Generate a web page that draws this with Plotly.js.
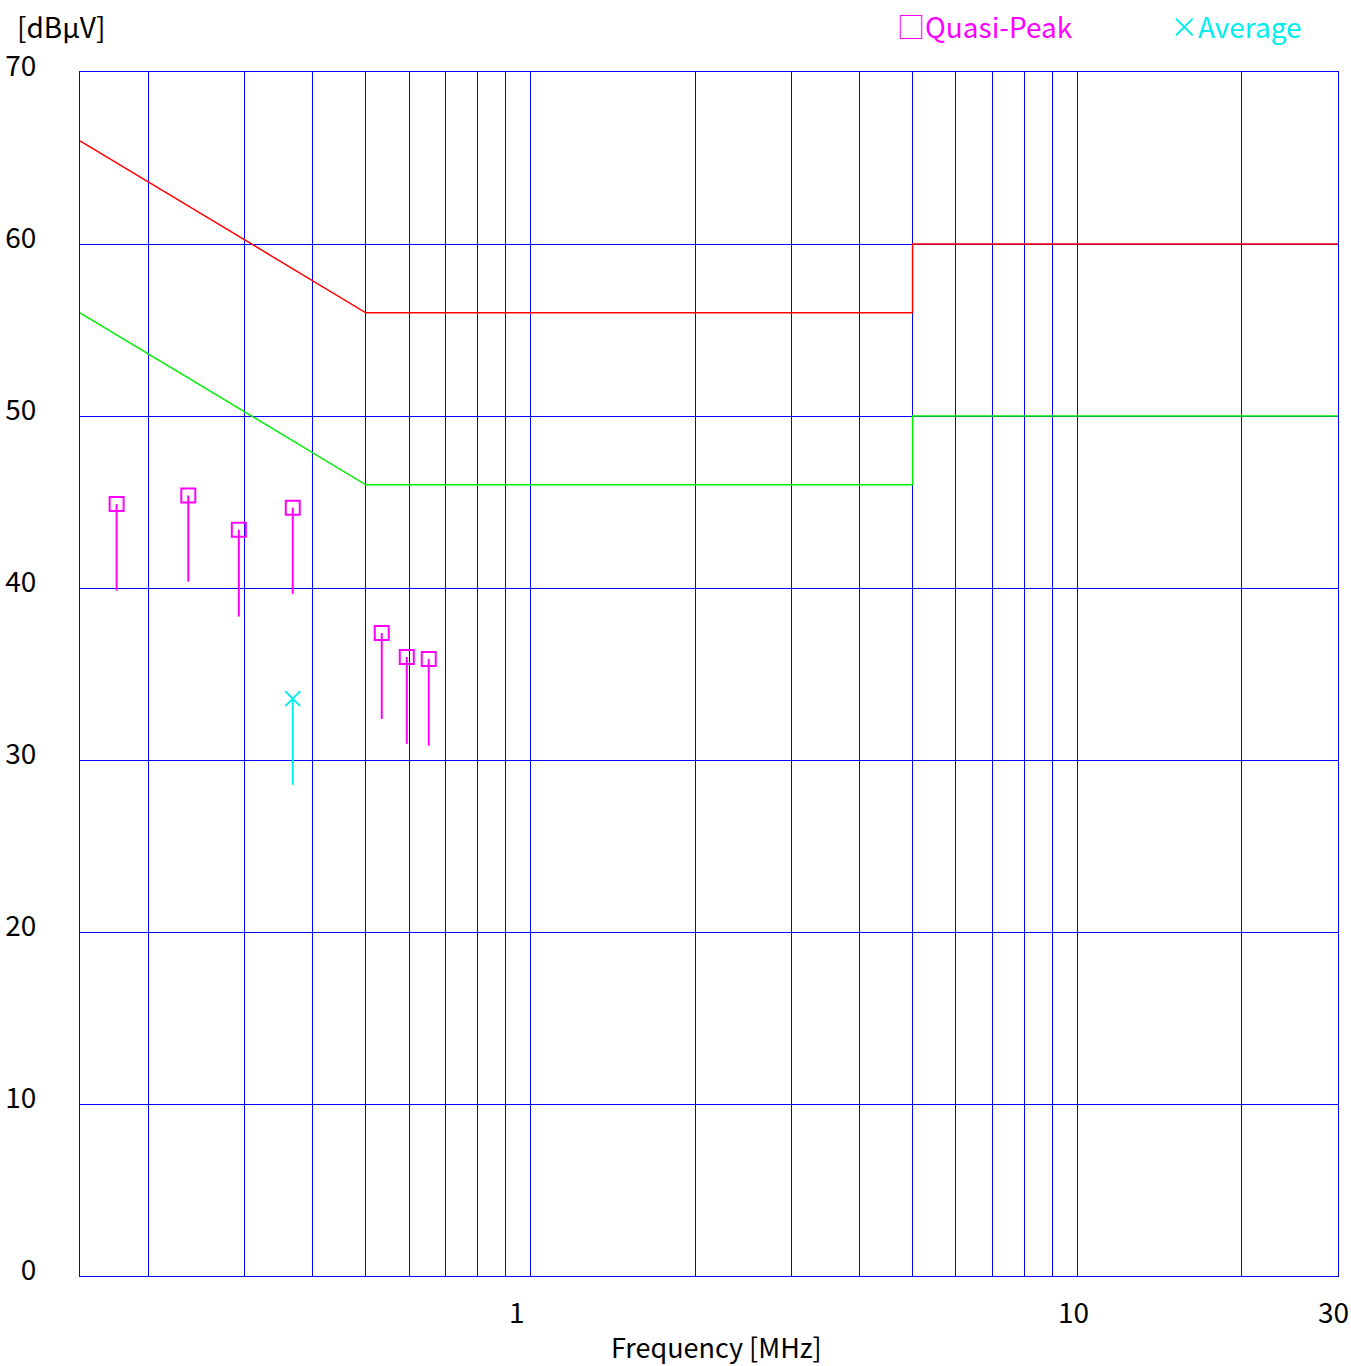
<!DOCTYPE html>
<html>
<head>
<meta charset="utf-8">
<script src="https://cdn.plot.ly/plotly-3.0.1.min.js"></script>
<style>html,body{margin:0;padding:0;background:#fff;}</style>
</head>
<body>
<div id="chart" style="width:1351px;height:1366px;"></div>
<script>
// Limit lines (MHz, dBuV)
const qpLimitFreq = [0.15, 0.5, 5, 5, 30];
const qpLimitVal  = [66, 56, 56, 60, 60];
const avLimitFreq = [0.15, 0.5, 5, 5, 30];
const avLimitVal  = [56, 46, 46, 50, 50];

// Quasi-peak measurements
const qpFreq = [0.1750, 0.2367, 0.2928, 0.3675, 0.5346, 0.5940, 0.6516];
const qpVal  = [44.89, 45.38, 43.39, 44.67, 37.38, 35.99, 35.87];
const qpLow  = [39.85, 40.37, 38.34, 39.66, 32.38, 30.94, 30.84];

// Average measurements
const avFreq = [0.3675];
const avVal  = [33.57];
const avLow  = [28.56];

// Axes
const xGridVals = [0.2,0.3,0.4,0.5,0.6,0.7,0.8,0.9,1,2,3,4,5,6,7,8,9,10,20,30];
const xTickVals = [1, 10, 30];
const xTickLabels = ["1", "10", "30"];
const yTickVals = [0,10,20,30,40,50,60,70];
const yTickLabels = ["0","10","20","30","40","50","60","70"];

const FONT = "Noto Sans CJK JP, Noto Sans, sans-serif";

function stems(fr, top, low) {
  const xs = [], ys = [];
  for (let i = 0; i < fr.length; i++) {
    xs.push(fr[i], fr[i], null);
    ys.push(top[i], low[i], null);
  }
  return {xs, ys};
}
const qs = stems(qpFreq, qpVal, qpLow);
const as = stems(avFreq, avVal, avLow);

const traces = [
  {x: qpLimitFreq, y: qpLimitVal, mode: "lines", line: {color: "#ff0000", width: 1.5}, hoverinfo: "skip"},
  {x: avLimitFreq, y: avLimitVal, mode: "lines", line: {color: "#00ee00", width: 1.5}, hoverinfo: "skip"},
  {x: qs.xs, y: qs.ys, mode: "lines", line: {color: "#ff00ff", width: 2}, connectgaps: false},
  {x: as.xs, y: as.ys, mode: "lines", line: {color: "#00eeee", width: 2}, connectgaps: false},
  {x: qpFreq, y: qpVal, mode: "markers",
   marker: {symbol: "square-open", size: 14, color: "#ff00ff", line: {width: 2, color: "#ff00ff"}}},
  {x: avFreq, y: avVal, mode: "markers",
   marker: {symbol: "x-thin-open", size: 15, color: "#00eeee", line: {width: 2, color: "#00eeee"}}}
];

const annotations = [];
const xShifts = [-13, -4, -5];
for (let i = 0; i < xTickVals.length; i++) {
  annotations.push({
    x: Math.log10(xTickVals[i]), xref: "x", y: 0, yref: "paper",
    text: xTickLabels[i], showarrow: false, xanchor: "center", yanchor: "middle",
    xshift: xShifts[i], yshift: -35, font: {family: FONT, size: 28, color: "#000"}
  });
}
annotations.push({
  x: (716 - 80) / 1258, xref: "paper", y: 0, yref: "paper", text: "Frequency [MHz]", showarrow: false,
  xanchor: "center", yanchor: "middle", yshift: -70, font: {family: FONT, size: 27, color: "#000"}
});
annotations.push({
  x: 0, xref: "paper", y: 1, yref: "paper", text: "[dBμV]", showarrow: false,
  xanchor: "left", yanchor: "middle", xshift: -65, yshift: 46, font: {family: FONT, size: 28, color: "#000"}
});
annotations.push({
  x: 0, xref: "paper", y: 1, yref: "paper", text: "□Quasi-Peak", showarrow: false,
  xanchor: "left", yanchor: "middle", xshift: 815, yshift: 46, font: {family: FONT, size: 28, color: "#ff00ff"}
});
annotations.push({
  x: 0, xref: "paper", y: 1, yref: "paper", text: "×Average", showarrow: false,
  xanchor: "left", yanchor: "middle", xshift: 1088, yshift: 46, font: {family: FONT, size: 28, color: "#00eeee"}
});

const layout = {
  width: 1351, height: 1366,
  margin: {l: 80, r: 13, t: 72, b: 90, pad: 0},
  paper_bgcolor: "#ffffff", plot_bgcolor: "#ffffff",
  showlegend: false,
  xaxis: {
    type: "log", range: [Math.log10(0.15), Math.log10(30)],
    tickvals: xGridVals, showticklabels: false, ticks: "",
    showgrid: true, gridcolor: "#0000ff", gridwidth: 1,
    showline: true, linecolor: "#0000ff", linewidth: 1, mirror: true, zeroline: false
  },
  yaxis: {
    range: [0, 70], tickvals: yTickVals, ticktext: yTickLabels, ticks: "",
    showgrid: true, gridcolor: "#0000ff", gridwidth: 1,
    showline: true, linecolor: "#0000ff", linewidth: 1, mirror: true, zeroline: false,
    tickfont: {family: FONT, size: 28, color: "#000"},
    ticklabelshift: -6, ticklabelstandoff: 37
  },
  annotations: annotations
};

Plotly.newPlot("chart", traces, layout, {staticPlot: true, displayModeBar: false});
</script>
</body>
</html>
